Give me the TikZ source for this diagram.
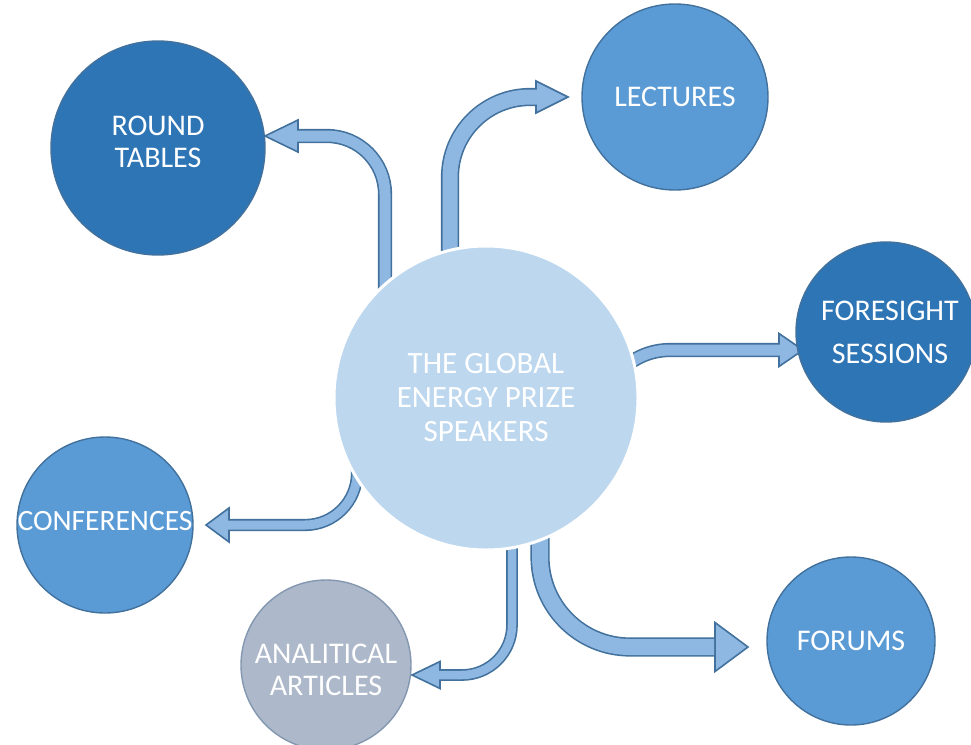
\documentclass[tikz,border=0pt]{standalone}
\usepackage{fontspec}
\setmainfont{Carlito}
\usetikzlibrary{calc}
\definecolor{hubblue}{RGB}{189,215,238}
\definecolor{darkblue}{RGB}{46,117,182}
\definecolor{midblue}{RGB}{91,155,213}
\definecolor{greyblue}{RGB}{173,185,202}
\definecolor{greyline}{RGB}{132,151,176}
\definecolor{lineblue}{RGB}{65,113,156}
\definecolor{arrowblue}{RGB}{142,183,226}
% move a line of text without changing the box
\newcommand{\liftby}[2]{\raisebox{#1}[\height][\depth]{#2}}
\begin{document}
\begin{tikzpicture}[x=1pt,y=-1pt,
	bubble/.style={circle, draw=lineblue, line width=1.4pt, text=white, align=center, inner sep=0pt, font=\fontsize{30}{32}\selectfont},
	shaft/.style={draw=lineblue, line width=1.6pt, double=arrowblue, double distance=#1},
	tiphead/.style={draw=lineblue, fill=arrowblue, line width=1.6pt, line join=miter}]
		\useasboundingbox (0,0) rectangle (971,744);
		\coordinate (hub) at (486,398);
		\coordinate (tipT) at (265,136);
		\coordinate (tipL) at (568,97);
		\coordinate (tipF) at (803,350);
		\coordinate (tipC) at (206,525);
		\coordinate (tipA) at (412,675);
		\coordinate (tipM) at (748,647);
		% arrow heads first, the shafts run a little into them
		\draw[tiphead] (tipT) -- ++(33,-16) -- ++(0,32) -- cycle;
		\draw[tiphead] (tipL) -- ++(-32,-16) -- ++(0,32) -- cycle;
		\draw[tiphead] (tipF) -- ++(-24,-16.5) -- ++(0,33) -- cycle;
		\draw[tiphead] (tipC) -- ++(23,-17) -- ++(0,34) -- cycle;
		\draw[tiphead] (tipA) -- ++(28,-13.5) -- ++(0,27) -- cycle;
		\draw[tiphead] (tipM) -- ++(-33,-24.5) -- ++(0,49) -- cycle;
		\draw[shaft=11pt, rounded corners=58pt] ($(hub)+(-101,0)$) |- (297.2,136);
		\draw[shaft=15pt, rounded corners=80pt] ($(hub)+(-36,0)$) |- (536.8,97);
		\draw[shaft=11pt, rounded corners=69pt] ($(hub)+(115,60)$) |- (779.8,350);
		\draw[shaft=9pt, rounded corners=52pt] ($(hub)+(-129,0)$) |- (228.2,525);
		\draw[shaft=8.5pt, rounded corners=50pt] ($(hub)+(26,0)$) |- (439.2,675);
		\draw[shaft=16pt, rounded corners=90pt] ($(hub)+(54,0)$) |- (714.2,647);
		% circles
		\node[bubble, fill=darkblue, minimum size=214pt] (tables) at (158,148) {\liftby{6pt}{ROUND}\\\liftby{6pt}{TABLES}};
		\node[bubble, fill=midblue, minimum size=186pt] (lectures) at (675,97) {LECTURES};
		\node[bubble, fill=darkblue, minimum size=180pt, font=\fontsize{30}{43}\selectfont] (foresight) at (886,332) {\hspace{8pt}FORESIGHT\\\hspace{8pt}SESSIONS};
		\node[bubble, fill=midblue, minimum size=176pt, font=\fontsize{29.5}{32}\selectfont] (conferences) at (105,525) {\liftby{4pt}{CONFERENCES}};
		\node[bubble, fill=greyblue, draw=greyline, minimum size=170pt] (articles) at (326,665) {\liftby{-5pt}{ANALITICAL}\\\liftby{-5pt}{ARTICLES}};
		\node[bubble, fill=midblue, minimum size=168pt] (forums) at (851,641) {FORUMS};
		\node[bubble, fill=hubblue, draw=white, line width=3pt, minimum size=304pt, font=\fontsize{31}{34}\selectfont] (speakers) at (hub) {THE GLOBAL\\ENERGY PRIZE\\SPEAKERS};
\end{tikzpicture}
\end{document}
